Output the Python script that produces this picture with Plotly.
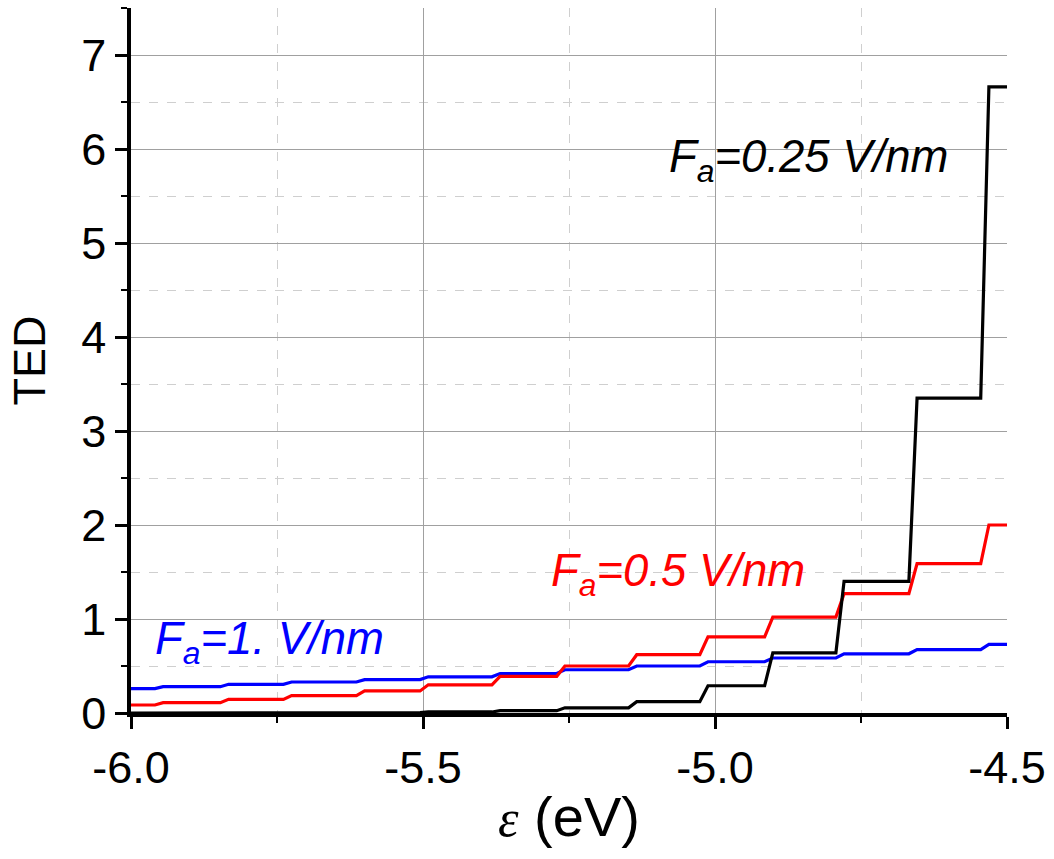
import plotly.graph_objects as go

# Energy positions (eV) where the total energy distribution steps up
step_edges = [-5.952, -5.840, -5.732, -5.607, -5.498, -5.375, -5.264,
              -5.141, -5.019, -4.908, -4.786, -4.661, -4.538]

# Plateau values of the TED between consecutive steps (first one starts at -6.0 eV)
ted_f025 = [0.0002, 0.0005, 0.001, 0.002, 0.005, 0.011, 0.025,
            0.055, 0.12, 0.29, 0.64, 1.40, 3.35, 6.66]
ted_f05 = [0.085, 0.11, 0.145, 0.185, 0.235, 0.30, 0.39,
           0.50, 0.62, 0.81, 1.02, 1.27, 1.59, 2.00]
ted_f1 = [0.26, 0.28, 0.305, 0.33, 0.355, 0.385, 0.42,
          0.46, 0.50, 0.545, 0.585, 0.63, 0.675, 0.73]

x_range = [-6.0, -4.5]
x_ticks = [-6.0, -5.5, -5.0, -4.5]
x_ticktext = ["-6.0", "-5.5", "-5.0", "-4.5"]
y_ticks = [0, 1, 2, 3, 4, 5, 6, 7]

RISE = 0.007  # half width of each finite-slope step


def staircase(edges, levels, x0, x1):
    xs, ys = [x0], [levels[0]]
    for k, e in enumerate(edges):
        xs += [e - RISE, e + RISE]
        ys += [levels[k], levels[k + 1]]
    xs.append(x1)
    ys.append(levels[-1])
    return xs, ys


FONT = "Liberation Sans, Arial, sans-serif"

fig = go.Figure()
for levels, color in [(ted_f1, "#0000ff"), (ted_f05, "#ff0000"), (ted_f025, "#000000")]:
    xs, ys = staircase(step_edges, levels, x_range[0], x_range[1])
    fig.add_trace(go.Scatter(x=xs, y=ys, mode="lines",
                             line=dict(color=color, width=3.2),
                             showlegend=False, hoverinfo="skip"))

labels = [
    ("<i>F<sub>a</sub>=0.25 V/nm</i>", -5.082, 5.88, "#000000"),
    ("<i>F<sub>a</sub>=0.5 V/nm</i>", -5.285, 1.48, "#ff0000"),
    ("<i>F<sub>a</sub>=1. V/nm</i>", -5.962, 0.76, "#0000ff"),
]
for text, x, y, color in labels:
    fig.add_annotation(x=x, y=y, text=text, showarrow=False,
                       xanchor="left", yanchor="middle",
                       font=dict(family=FONT, size=45.5, color=color))

axis_common = dict(
    showline=True, linewidth=3.5, linecolor="black", mirror=False,
    ticks="outside", ticklen=12, tickwidth=3, tickcolor="black",
    showgrid=True, gridcolor="#a0a0a0", gridwidth=1,
    zeroline=False,
    tickfont=dict(family=FONT, size=45, color="black"),
)

fig.update_xaxes(
    range=x_range, tickmode="array", tickvals=x_ticks, ticktext=x_ticktext,
    minor=dict(tick0=-6.0, dtick=0.25, ticks="outside", ticklen=6, tickwidth=2,
               tickcolor="black", showgrid=True, gridcolor="#cfcfcf",
               griddash="dash", gridwidth=1),
    title=dict(text='<span style="font-family:Liberation Serif;font-size:52px"><i>ε</i></span> (eV)',
               font=dict(family=FONT, size=56, color="black"), standoff=6),
    **axis_common,
)
fig.update_yaxes(
    range=[0, 7.5], tickmode="array", tickvals=y_ticks,
    minor=dict(tick0=0, dtick=0.5, ticks="outside", ticklen=6, tickwidth=2,
               tickcolor="black", showgrid=True, gridcolor="#cfcfcf",
               griddash="dash", gridwidth=1),
    title=dict(text="TED", font=dict(family=FONT, size=45, color="black"), standoff=22),
    **axis_common,
)

fig.update_layout(
    width=1054, height=859,
    margin=dict(l=131, r=47, t=8, b=146),
    plot_bgcolor="white", paper_bgcolor="white",
)

fig.write_html("out.html")
